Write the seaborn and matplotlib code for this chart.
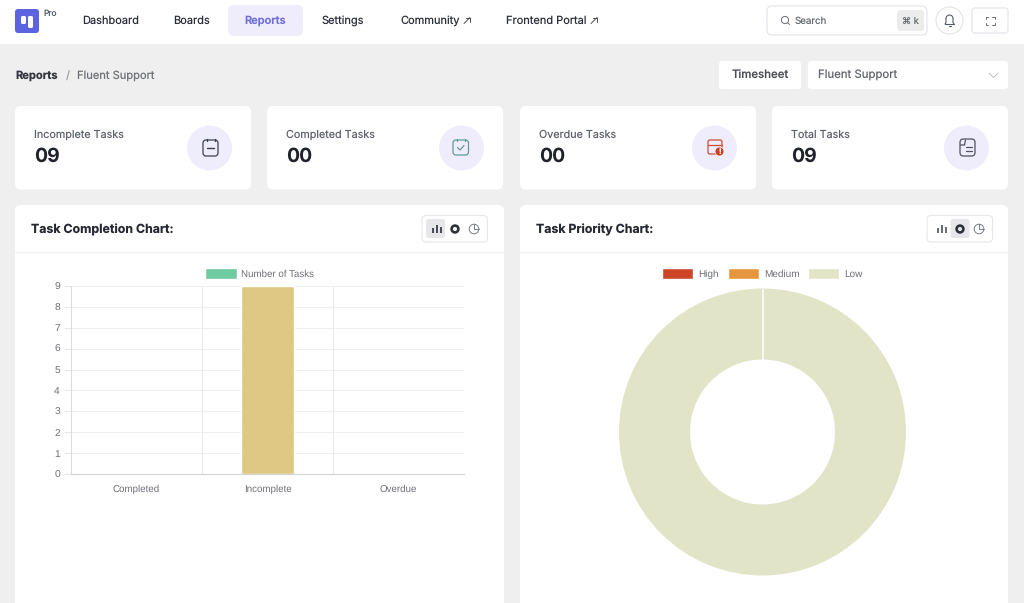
import matplotlib
matplotlib.use("Agg")
import matplotlib.pyplot as plt
import seaborn as sns
from matplotlib.patches import FancyBboxPatch, Circle, Rectangle, Patch, Arc

# chart data
task_categories = ["Completed", "Incomplete", "Overdue"]
task_counts = [0, 9, 0]
task_colors = ["#6fcb9f", "#dfc884", "#d9553f"]
bar_legend_label = "Number of Tasks"
bar_legend_color = "#6fcb9f"

priority_labels = ["High", "Medium", "Low"]
priority_counts = [0, 0, 9]
priority_colors = ["#cb4526", "#e6963c", "#e2e4c8"]

# page texts
nav_items = ["Dashboard", "Boards", "Reports", "Settings", "Community", "Frontend Portal"]
nav_x = [82, 173, 244, 322, 400, 506]
nav_arrow_x = {"Community": 464, "Frontend Portal": 591}
stat_labels = ["Incomplete Tasks", "Completed Tasks", "Overdue Tasks", "Total Tasks"]
stat_values = ["09", "00", "00", "09"]
stat_card_x = [15, 267, 520, 772]

sns.set_style("white")
plt.rcParams["font.family"] = ["Inter", "DejaVu Sans"]
plt.rcParams["text.hinting"] = "no_hinting"

W, H = 1024, 603
fig = plt.figure(figsize=(W / 100, H / 100), dpi=100, facecolor="#efefef")
chart_font = "Liberation Sans"


def box_axes(left, top, right, bottom):
    # axes placed with pixel coordinates of the page
    return fig.add_axes([left / W, 1 - bottom / H, (right - left) / W, (bottom - top) / H])


# page background, cards and toolbar are drawn in pixel coordinates
bg = fig.add_axes([0, 0, 1, 1], zorder=0)
bg.set_xlim(0, W)
bg.set_ylim(H, 0)
bg.axis("off")


def card(x0, y0, x1, y1, fc="white", ec="none", r=6, lw=0.8):
    bg.add_patch(FancyBboxPatch((x0 + r, y0 + r), x1 - x0 - 2 * r, y1 - y0 - 2 * r,
                                boxstyle=f"round,pad={r},rounding_size={r}",
                                fc=fc, ec=ec, lw=lw))


def label(x, y, s, size=7.95, color="#2b2f3a", weight="normal", ha="left"):
    bg.text(x, y + 0.5, s, fontsize=size, color=color, fontweight=weight, ha=ha, va="center")


def small_line(xs, ys, color, lw=1.0):
    bg.plot(xs, ys, color=color, lw=lw, solid_capstyle="round")


# top nav
bg.add_patch(Rectangle((0, 0), W, 44, fc="white", ec="none"))
card(15, 9, 39, 33, fc="#5b63e0", r=3)
card(21, 16, 26, 24, fc="white", r=1.5)
card(28, 16, 33, 28, fc="white", r=1.5)
label(43, 13, "Pro", size=6, color="#555a66")
card(228, 5, 303, 36, fc="#efedfc", r=6)
for name, x in zip(nav_items, nav_x):
    if name == "Reports":
        label(x, 20.5, name, color="#6f6fdc", weight="semibold")
    else:
        label(x, 20.5, name)
    if name in nav_arrow_x:
        ax0 = nav_arrow_x[name]
        small_line([ax0, ax0 + 6], [23.5, 17.5], "#4b4e57", 0.7)
        small_line([ax0 + 1.5, ax0 + 6, ax0 + 6], [17.5, 17.5, 22], "#4b4e57", 0.7)

# search box and buttons
card(767, 6, 927, 35, fc="white", ec="#e2e4e8", r=5)
bg.add_patch(Circle((785, 20), 3.6, fc="none", ec="#666b75", lw=0.7))
small_line([787.6, 789.5], [22.6, 24.5], "#666b75", 0.7)
label(795, 20.5, "Search", size=7, color="#666b75")
card(897, 10, 924, 31, fc="#ececec", r=3)
label(910.5, 20.5, "⌘ k", size=6.6, color="#666b75", ha="center")
bg.add_patch(Circle((949.5, 20.5), 13.5, fc="white", ec="#e2e4e8", lw=0.8))
bg.add_patch(Arc((949.5, 18.5), 7, 7, theta1=180, theta2=360, ec="#555a66", lw=0.8))
small_line([945, 946, 946], [24, 22.5, 18.5], "#555a66", 0.8)
small_line([954, 953, 953], [24, 22.5, 18.5], "#555a66", 0.8)
small_line([945, 954], [24, 24], "#555a66", 0.8)
small_line([948.5, 950.5], [26, 26], "#555a66", 0.8)
card(972, 8, 1008, 33, fc="white", ec="#e2e4e8", r=3)
for cx, sx in [(985.5, 1), (994.5, -1)]:
    for cy, sy in [(16.5, 1), (25, -1)]:
        small_line([cx, cx, cx + sx * 2.5], [cy + sy * 2.5, cy, cy], "#666b75", 0.7)

# breadcrumb row
label(15, 75, "Reports", size=8, color="#33363f", weight="bold")
label(66, 75, "/", size=8, color="#9a9da5")
label(77, 75, "Fluent Support", size=8, color="#6d7078")
card(719, 61, 801, 89, fc="white", r=3)
label(760, 75, "Timesheet", size=8.2, color="#4b4e57", ha="center", weight="medium")
card(808, 61, 1008, 89, fc="white", r=3)
label(818, 75, "Fluent Support", size=8.2, color="#62656e")
small_line([989, 993.5, 998], [73, 77.5, 73], "#c0c2c7", 0.7)

# stat cards
for x, name, val in zip(stat_card_x, stat_labels, stat_values):
    card(x, 106, x + 236, 189.5, r=6)
    label(x + 19, 134, name, size=7.75, color="#5f626b")
    label(x + 19, 156.5, val, size=14, color="#20232c", weight="bold")
    bg.add_patch(Circle((x + 194.5, 148), 22.5, fc="#efedfb", ec="none"))

# stat icons
card(203, 140, 218, 156, fc="none", ec="#3c3f4c", r=3, lw=0.9)
small_line([207, 214], [148, 148], "#3c3f4c", 1)
small_line([206.5, 206.5], [138.5, 141], "#3c3f4c", 1)
small_line([214.5, 214.5], [138.5, 141], "#3c3f4c", 1)
card(453, 140, 468.5, 155, fc="none", ec="#5f9c97", r=3, lw=0.9)
small_line([457.5, 460, 464], [147.5, 150, 145.5], "#5f9c97", 0.9)
small_line([457, 457], [138.5, 141], "#5f9c97", 0.9)
small_line([465, 465], [138.5, 141], "#5f9c97", 0.9)
card(708, 140, 722, 154, fc="none", ec="#cd4b35", r=2, lw=0.9)
small_line([708, 722], [144.5, 144.5], "#cd4b35", 0.9)
bg.add_patch(Circle((719.5, 151.5), 4.5, fc="#cd3f24", ec="white", lw=0.5))
bg.text(719.5, 151.7, "!", fontsize=5.5, color="white", ha="center", va="center", fontweight="bold")
card(960, 139, 975, 156, fc="none", ec="#4f5260", r=3.5, lw=0.9)
small_line([966, 972], [147, 147], "#4f5260", 0.9)
small_line([966, 972], [151, 151], "#4f5260", 0.9)
small_line([960.5, 964.5, 965.5], [145, 145, 140], "#4f5260", 0.9)

# chart cards run past the bottom of the page
for x0, x1, title in [(15, 504, "Task Completion Chart:"), (520, 1008, "Task Priority Chart:")]:
    card(x0, 205, x1, 625, r=6)
    small_line([x0, x1], [252, 252], "#f0f0f2", 0.9)
    label(x0 + 16, 229, title, size=8.9, color="#262932", weight="bold")

# chart type switchers
for x0, active in [(422, 0), (927, 1)]:
    card(x0, 215.5, x0 + 65.5, 242, fc="white", ec="#e6e7ea", r=4)
    card(x0 + 4 + active * 19.5, 219, x0 + 23 + active * 19.5, 238, fc="#e7e7e9", r=2.5)
    # bars icon
    ic = "#4a4d57" if active == 0 else "#6a6d76"
    for dx, h in [(10, 5), (14, 8), (18, 6)]:
        bg.add_patch(Rectangle((x0 + dx, 233 - h), 2.4, h, fc=ic, ec="none"))
    # doughnut icon
    bg.add_patch(Circle((x0 + 33, 229), 3.4, fc="none", ec="#2f323b", lw=1.9))
    # pie icon
    bg.add_patch(Circle((x0 + 52, 229), 4.8, fc="none", ec="#777a83", lw=0.7))
    small_line([x0 + 52, x0 + 52, x0 + 56.8], [224.2, 229, 229], "#777a83", 0.7)

# bar chart
ax = box_axes(71, 286, 464, 474)
ax.set_facecolor("none")
sns.barplot(x=task_categories, y=task_counts, hue=task_categories, palette=task_colors,
            width=0.405, saturation=1, legend=False, ax=ax, zorder=3)
ax.set_xlim(-0.5, 2.5)
ax.set_ylim(0, 9)
ax.set_yticks(range(0, 10))
ax.set_xticks([-0.5, 0.5, 1.5, 2.5], minor=True)
ax.grid(True, axis="y", color="#eeeeef", lw=0.8, zorder=0)
ax.grid(True, axis="x", which="minor", color="#e8e8ea", lw=0.7, zorder=0)
ax.grid(False, axis="x", which="major")
ax.tick_params(axis="x", which="major", length=0, pad=7.5, labelsize=7, labelcolor="#6f7177")
ax.tick_params(axis="x", which="minor", length=5, width=0.7, color="#dcdcde")
ax.tick_params(axis="y", length=5, width=0.7, color="#e4e4e6", pad=3, labelsize=7.4, labelcolor="#6f7177")
ax.tick_params(axis="both", bottom=True, left=True)
for t in ax.get_xticklabels() + ax.get_yticklabels():
    t.set_family(chart_font)
sns.despine(ax=ax, top=True, right=True)
ax.spines["left"].set_color("#dcdcde")
ax.spines["bottom"].set_color("#d2d2d4")
for s in ["left", "bottom"]:
    ax.spines[s].set_linewidth(0.8)
fig.legend(handles=[Patch(fc=bar_legend_color, label=bar_legend_label)],
           loc="center", bbox_to_anchor=(259.5 / W, 1 - 273.5 / H), frameon=False,
           prop=dict(family=chart_font, size=7), labelcolor="#6f7177", handlelength=3.3,
           handleheight=1.5, handletextpad=0.45, borderpad=0)

# doughnut chart
ax2 = box_axes(619, 288.5, 906, 575.5)
wedges, _ = ax2.pie(priority_counts, colors=priority_colors, startangle=90, counterclock=False,
                    radius=1, wedgeprops=dict(width=0.495, linewidth=0))
ax2.set_xlim(-1, 1)
ax2.set_ylim(-1, 1)
# the arc border shows as a thin white seam where the full ring starts
low = wedges[2]
ax2.plot([0, 0], [low.r - low.width, low.r], color="white", lw=1.1)
fig.legend(handles=[Patch(fc=c, label=n) for c, n in zip(priority_colors, priority_labels)],
           loc="center", bbox_to_anchor=(762.5 / W, 1 - 273.5 / H), frameon=False, ncol=3,
           prop=dict(family=chart_font, size=7.2), labelcolor="#6f7177", handlelength=3.1,
           handleheight=1.3, handletextpad=0.5, columnspacing=0.9, borderpad=0)

fig.savefig("out.png", dpi=100, facecolor=fig.get_facecolor())
